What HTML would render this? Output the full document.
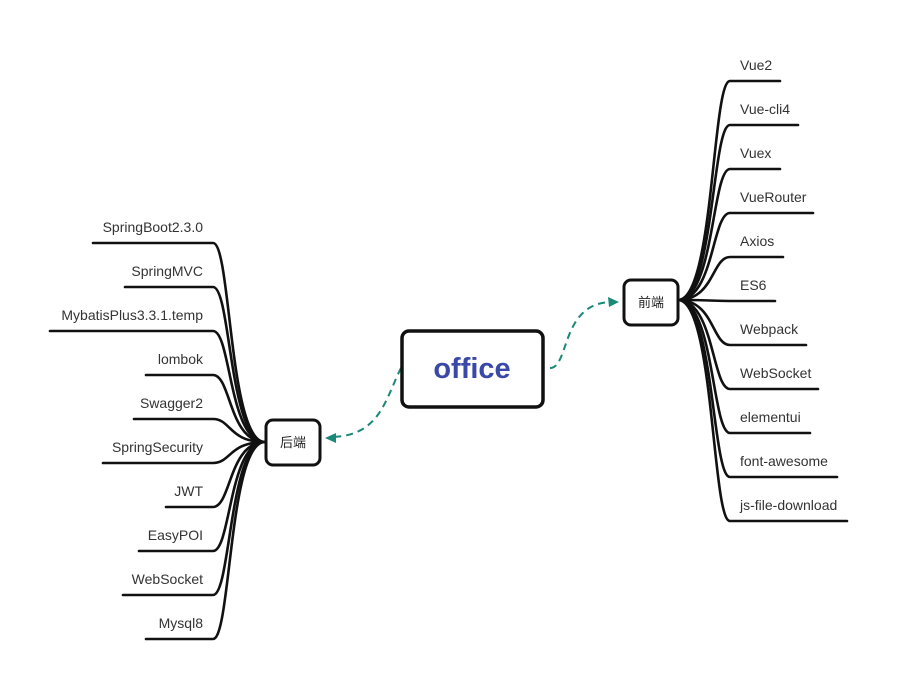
<!DOCTYPE html>
<html><head><meta charset="utf-8"><style>
html,body{margin:0;padding:0;background:#fff;}
svg{display:block}
text{font-family:"Liberation Sans","Noto Sans CJK SC",sans-serif;font-size:14px;fill:#333}
</style></head><body>
<svg width="897" height="691" viewBox="0 0 897 691">
<g fill="none" stroke="#111" stroke-width="2.6" stroke-linecap="round">
<!-- right branches -->
<path d="M678,300 C714,300 712,81 730,81 L780,81"/>
<path d="M678,300 C714,300 712,125 730,125 L798,125"/>
<path d="M678,300 C714,300 712,169 730,169 L780,169"/>
<path d="M678,300 C714,300 712,213 730,213 L813,213"/>
<path d="M678,300 C714,300 712,257 730,257 L783,257"/>
<path d="M678,300 C714,300 712,301 730,301 L775,301"/>
<path d="M678,300 C714,300 712,345 730,345 L806,345"/>
<path d="M678,300 C714,300 712,389 730,389 L818,389"/>
<path d="M678,300 C714,300 712,433 730,433 L810,433"/>
<path d="M678,300 C714,300 712,477 730,477 L837,477"/>
<path d="M678,300 C714,300 712,521 730,521 L847,521"/>
<!-- left branches -->
<path d="M265,442 C229,442 231,243 213,243 L93,243"/>
<path d="M265,442 C229,442 231,287 213,287 L125,287"/>
<path d="M265,442 C229,442 231,331 213,331 L50,331"/>
<path d="M265,442 C229,442 231,375 213,375 L146,375"/>
<path d="M265,442 C229,442 231,419 213,419 L134,419"/>
<path d="M265,442 C229,442 231,463 213,463 L103,463"/>
<path d="M265,442 C229,442 231,507 213,507 L166,507"/>
<path d="M265,442 C229,442 231,551 213,551 L139,551"/>
<path d="M265,442 C229,442 231,595 213,595 L123,595"/>
<path d="M265,442 C229,442 231,639 213,639 L146,639"/>
</g>
<!-- dashed connectors -->
<g fill="none" stroke="#1a8a78" stroke-width="2" stroke-dasharray="7,5">
<path d="M550,368 C570,368 560,300 615,302"/>
<path d="M401,368 C385,400 380,435 333,437"/>
</g>
<polygon points="619,302 608,297 609,307" fill="#1a8a78"/>
<polygon points="325,438 336,433 336,443" fill="#1a8a78"/>
<!-- nodes -->
<rect x="402" y="331" width="141" height="76" rx="7" fill="#fff" stroke="#111" stroke-width="3.5"/>
<text x="472" y="378" text-anchor="middle" style="font-size:29px;font-weight:bold;fill:#3a48a8">office</text>
<rect x="624" y="280" width="54" height="45" rx="7" fill="#fff" stroke="#111" stroke-width="3"/>
<text x="651" y="307" text-anchor="middle" style="font-size:13px;fill:#222">前端</text>
<rect x="266" y="420" width="54" height="45" rx="7" fill="#fff" stroke="#111" stroke-width="3"/>
<text x="293" y="447" text-anchor="middle" style="font-size:13px;fill:#222">后端</text>
<!-- right labels -->
<g>
<text x="740" y="70">Vue2</text>
<text x="740" y="114">Vue-cli4</text>
<text x="740" y="158">Vuex</text>
<text x="740" y="202">VueRouter</text>
<text x="740" y="246">Axios</text>
<text x="740" y="290">ES6</text>
<text x="740" y="334">Webpack</text>
<text x="740" y="378">WebSocket</text>
<text x="740" y="422">elementui</text>
<text x="740" y="466">font-awesome</text>
<text x="740" y="510">js-file-download</text>
</g>
<g text-anchor="end">
<text x="203" y="232">SpringBoot2.3.0</text>
<text x="203" y="276">SpringMVC</text>
<text x="203" y="320">MybatisPlus3.3.1.temp</text>
<text x="203" y="364">lombok</text>
<text x="203" y="408">Swagger2</text>
<text x="203" y="452">SpringSecurity</text>
<text x="203" y="496">JWT</text>
<text x="203" y="540">EasyPOI</text>
<text x="203" y="584">WebSocket</text>
<text x="203" y="628">Mysql8</text>
</g>
</svg>
</body></html>
